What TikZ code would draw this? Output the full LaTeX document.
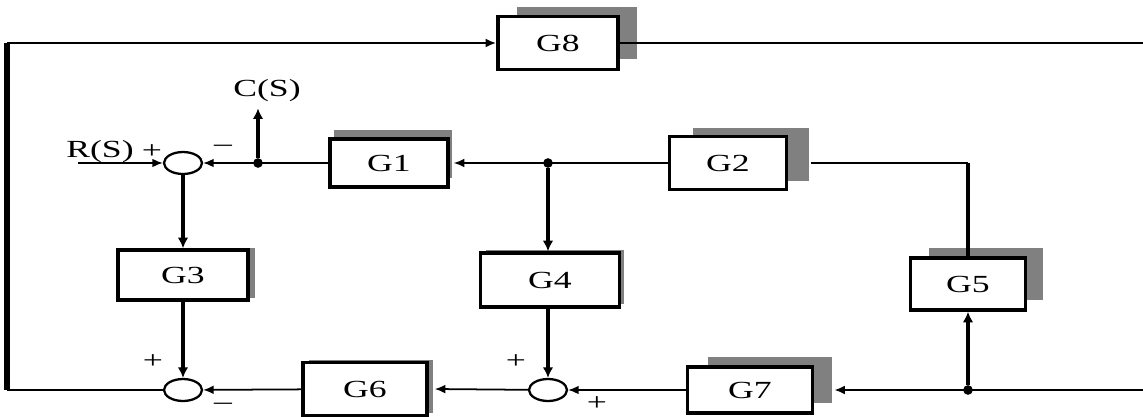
\documentclass[tikz,border=0pt]{standalone}
\usepackage{fontspec}
\setmainfont{Liberation Serif}[FakeStretch=1.45]
\usepackage{tikz}
\usetikzlibrary{arrows.meta,shapes.geometric,shadows}

\tikzset{
  gbox/.style={draw, line width=2pt, fill=white, inner sep=0pt},
  shd/.style 2 args={drop shadow={shadow xshift=#1, shadow yshift=#2, fill=black!50, opacity=1}},
  sumpt/.style={draw, ellipse, line width=1.3pt, minimum width=0.76cm, minimum height=0.44cm, inner sep=0pt},
  jdot/.style={circle, fill, inner sep=0pt, minimum size=5.5pt},
  sig/.style={line width=1pt, -{Latex[length=6pt,width=5pt]}},
  sigv/.style={line width=2.2pt, -{Latex[length=6pt,width=6pt]}},
  wire/.style={line width=1pt}
}

\begin{document}
\begin{tikzpicture}[x=0.02cm, y=-0.02cm, font=\fontsize{14}{16}\selectfont]
  \useasboundingbox (0,0) rectangle (1143,416);
  % blocks
  \node[gbox, shd={0.38cm}{0.2cm}, minimum width=2.4cm, minimum height=1.06cm] (G8) at (558,43) {G8};
  \node[gbox, shd={0.08cm}{0.18cm}, minimum width=2.36cm, minimum height=0.96cm] (G1) at (389,163) {G1};
  \node[gbox, shd={0.46cm}{0.18cm}, minimum width=2.34cm, minimum height=1.06cm] (G2) at (728,163) {G2};
  \node[gbox, shd={0.14cm}{0.05cm}, minimum width=2.6cm, minimum height=1.0cm] (G3) at (183,275) {G3};
  \node[gbox, shd={0.1cm}{0.06cm}, minimum width=2.78cm, minimum height=1.08cm] (G4) at (550,280) {G4};
  \node[gbox, shd={0.36cm}{0.2cm}, minimum width=2.3cm, minimum height=1.04cm] (G5) at (968,284) {G5};
  \node[gbox, shd={0.12cm}{0.06cm}, minimum width=2.48cm, minimum height=1.06cm] (G6) at (365,389) {G6};
  \node[gbox, shd={0.4cm}{0.2cm}, minimum width=2.5cm, minimum height=0.92cm] (G7) at (750,390) {G7};
  % summing points and branch points
  \node[sumpt] (S1) at (183,163) {};
  \node[sumpt] (S2) at (183,390) {};
  \node[sumpt] (S3) at (548,390) {};
  \node[jdot] (J1) at (258,163) {};
  \node[jdot] (J2) at (548,163) {};
  \node[jdot] (J3) at (968,390) {};
  \coordinate (Rin) at (78,163);
  \coordinate (TL) at (7,43);
  \coordinate (BL) at (7,390);
  \coordinate (TR) at (1143,43);
  \coordinate (BR) at (1143,390);
  \coordinate (K5) at (968,163);
  % labels
  \node (Rs) at (100,152) {R(S)};
  \node (p1) at (152,152) {+};
  \node (m1) at (223,148) {--};
  \node (Cs) at (267,91) {C(S)};
  \node (p2) at (153,362) {+};
  \node (m2) at (223,406) {--};
  \node (p3) at (516,362) {+};
  \node (p4) at (597,404) {+};
  % connections
  \draw[sig] (Rin) -- (S1);
  \draw[sig] (G1) -- (S1);
  \draw[sigv] (J1) -- (J1 |- Cs.south);
  \draw[sig] (G2) -- ([xshift=0.08cm]G1.east);
  \draw[sigv] (J2) -- (J2 |- G4.north);
  \draw[sigv] (S1) -- (G3);
  \draw[sigv] (G3) -- (S2);
  \draw[sigv] (G4.south -| S3) -- (S3);
  \draw[sig] (G6) -- (S2);
  \draw[sig] (S3) -- ([xshift=0.12cm]G6.east);
  \draw[sig] (G7) -- (S3);
  \draw[sig, line width=1.2pt] (BR) -- ([xshift=0.4cm]G7.east);
  \draw[sigv] (J3) -- (G5);
  \draw[line width=2.2pt] (G5) -- (K5);
  \draw[wire] (K5) -- ([xshift=0.46cm]G2.east);
  % outer loop through G8
  \draw[line width=1.5pt] (S2) -- (BL);
  \draw[line width=3pt] (BL) -- (TL);
  \draw[sig, line width=1.3pt] (TL) -- (G8);
  \draw[line width=1.3pt] (G8) -- (TR);
\end{tikzpicture}
\end{document}
